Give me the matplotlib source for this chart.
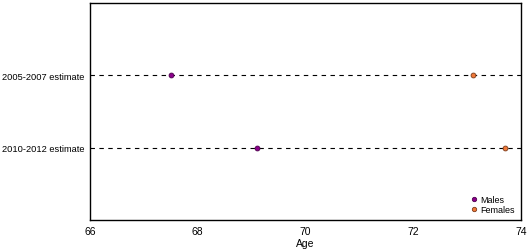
import matplotlib.pyplot as plt

plt.rcParams['font.family'] = ['Liberation Sans', 'DejaVu Sans']

categories = ['2005-2007 estimate', '2010-2012 estimate']
males = [67.5, 69.1]
females = [73.1, 73.7]

fig = plt.figure(figsize=(5.29, 2.53), dpi=100)
ax = fig.add_axes([90 / 529, 1 - 221 / 253, 431 / 529, 217 / 253])

ypos = [1, 2]
for y in ypos:
    ax.axhline(y, color='black', lw=0.8, ls=(0, (4, 4)), zorder=1)

ax.plot(males, ypos, 'o', ms=3.5, color='#8B008B', mec='#4B004B', mew=0.6,
        label='Males', zorder=3)
ax.plot(females, ypos, 'o', ms=3.5, color='#F07838', mec='#7A3A1A', mew=0.6,
        label='Females', zorder=3)

ax.set_xlim(66, 74)
ax.set_ylim(3, 0)
ax.set_xticks([66, 68, 70, 72, 74])
ax.set_yticks(ypos)
ax.set_yticklabels(categories)
ax.tick_params(axis='y', length=0, labelsize=6.7, pad=4)
ax.tick_params(axis='x', length=0, labelsize=7.5, pad=4)
ax.set_xlabel('Age', fontsize=7.5, labelpad=2)
for s in ax.spines.values():
    s.set_linewidth(1.0)

ax.legend(loc='lower right', frameon=False, fontsize=6.5, handletextpad=0.2,
          handlelength=1, borderaxespad=0.3, labelspacing=0.1, markerscale=0.9)

fig.savefig('out.png', dpi=100)
